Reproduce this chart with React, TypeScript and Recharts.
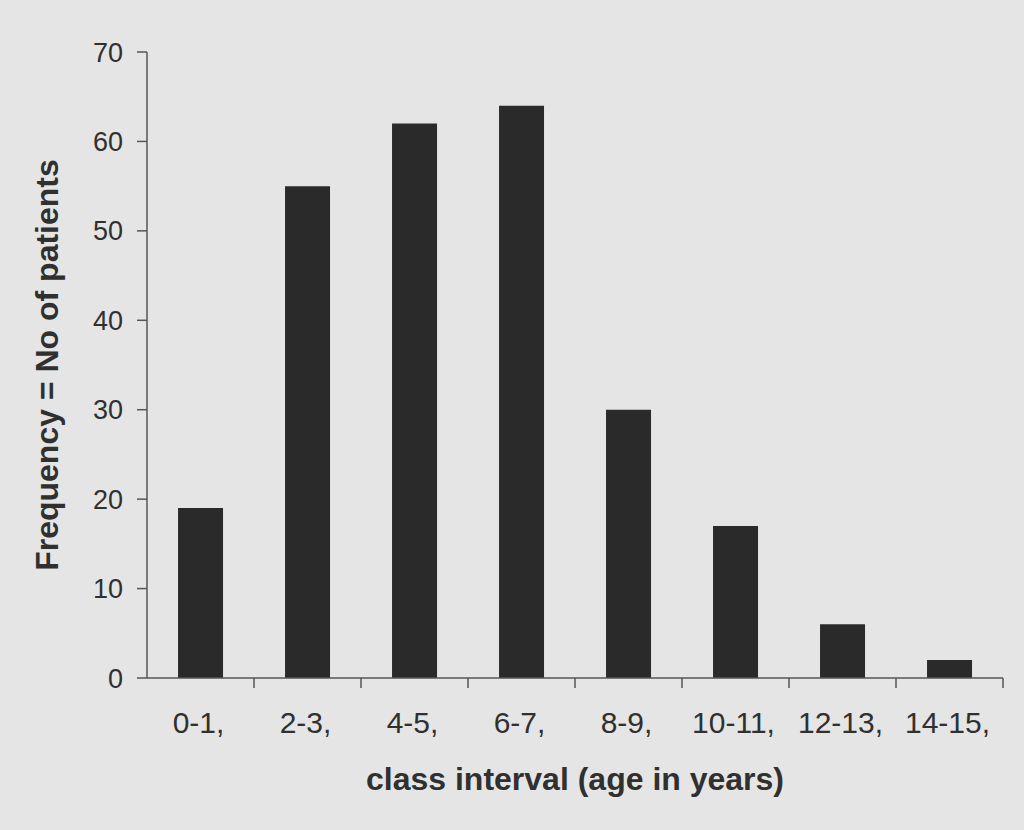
import { BarChart, Bar, XAxis, YAxis } from 'recharts';

const classIntervals = ['0-1,', '2-3,', '4-5,', '6-7,', '8-9,', '10-11,', '12-13,', '14-15,'];
const patientCounts = [19, 55, 62, 64, 30, 17, 6, 2];
const yTicks = [0, 10, 20, 30, 40, 50, 60, 70];

const data = classIntervals.map((interval, i) => ({ interval, patients: patientCounts[i] }));

const CHART_W = 1024;
const CHART_H = 830;
const MARGIN = { top: 52, right: 21, bottom: 32, left: 0 };
const Y_AXIS_W = 147;
const TICK_SIZE = 10;
const TICK_MARGIN = 4;

const textColor = '#303030';
const axisColor = '#555';
const font = '"Liberation Sans", Arial, sans-serif';

const bandWidth = (CHART_W - MARGIN.left - MARGIN.right - Y_AXIS_W) / classIntervals.length;

// Excel-style ticks: marks on category boundaries, labels centered
function BoundaryTick(props: any) {
  const { x, y, payload } = props;
  const axisY = y - TICK_SIZE - TICK_MARGIN;
  const edge = x + bandWidth / 2;
  return (
    <g>
      <line x1={edge} y1={axisY} x2={edge} y2={axisY + TICK_SIZE} stroke={axisColor} strokeWidth={1.5} />
      <text x={x - 2} y={axisY + 55} textAnchor="middle" fill={textColor} fontSize={30} fontFamily={font}>
        {payload.value}
      </text>
    </g>
  );
}

export default function App() {
  return (
    <div style={{ position: 'fixed', left: 0, top: 0, width: CHART_W, height: CHART_H, background: '#e5e5e5' }}>
      <BarChart width={CHART_W} height={CHART_H} data={data} margin={MARGIN} barCategoryGap="29%">
        <XAxis
          dataKey="interval"
          height={120}
          interval={0}
          tickLine={false}
          tickSize={TICK_SIZE}
          tickMargin={TICK_MARGIN}
          axisLine={{ stroke: axisColor, strokeWidth: 1.5 }}
          tick={<BoundaryTick />}
          label={{
            value: 'class interval (age in years)',
            position: 'insideBottom',
            offset: 8,
            fill: textColor,
            fontSize: 32,
            fontWeight: 'bold',
            fontFamily: font,
          }}
        />
        <YAxis
          width={Y_AXIS_W}
          domain={[0, 70]}
          ticks={yTicks}
          tickSize={TICK_SIZE}
          tickMargin={14}
          axisLine={{ stroke: axisColor, strokeWidth: 1.5 }}
          tickLine={{ stroke: axisColor, strokeWidth: 1.5 }}
          tick={{ fill: textColor, fontSize: 27, fontFamily: font }}
          label={{
            value: 'Frequency = No of patients',
            angle: -90,
            position: 'insideLeft',
            offset: 47,
            fill: textColor,
            fontSize: 32,
            fontWeight: 'bold',
            fontFamily: font,
            style: { textAnchor: 'middle' },
          }}
        />
        <Bar dataKey="patients" fill="#2a2a2a" isAnimationActive={false} />
      </BarChart>
    </div>
  );
}
